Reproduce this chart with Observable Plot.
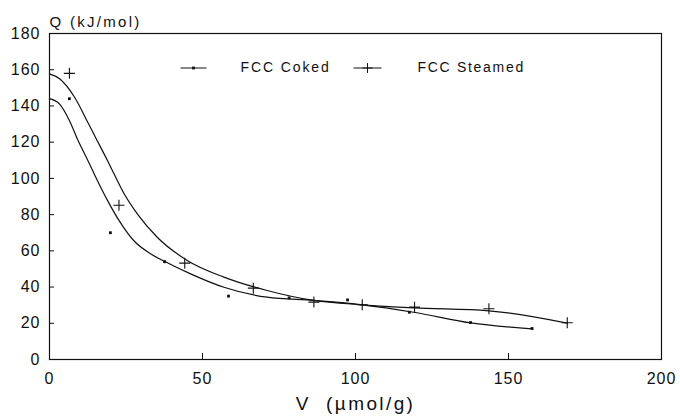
<!DOCTYPE html>
<html>
<head>
<meta charset="utf-8">
<script src="https://cdn.jsdelivr.net/npm/d3@7"></script>
<script src="https://cdn.jsdelivr.net/npm/@observablehq/plot@0.6"></script>
<style>
  html, body { margin: 0; padding: 0; background: #fff; }
  #chart { width: 680px; height: 416px; }
</style>
</head>
<body>
<div id="chart"></div>
<script>
// ---- data ----
const xTicks = [0, 50, 100, 150, 200];
const yTicks = [0, 20, 40, 60, 80, 100, 120, 140, 160, 180];

// FCC Coked measured points (V µmol/g, Q kJ/mol)
const cokedV = [6.5, 19.9, 37.6, 58.5, 78.3, 97.4, 117.6, 137.6, 157.7];
const cokedQ = [144, 70, 54, 35, 34, 32.9, 26.1, 20.4, 17.1];

// FCC Steamed measured points
const steamedV = [6.5, 22.7, 44.2, 66.6, 86.4, 102.2, 119.3, 143.6, 169.2];
const steamedQ = [158, 85.2, 53.2, 39.4, 31.7, 30.2, 28.9, 28.0, 20.3];

// fitted curves
const cokedFitV = [0, 3.3, 6.5, 9.3, 12.5, 15.6, 18.9, 22.7, 27.5, 33, 37.7, 46.1, 57, 71.1, 86.4, 102.2, 119, 137.6, 157.7];
const cokedFitQ = [144, 141, 132, 121, 110, 99, 88, 76.8, 65.7, 58.4, 54.1, 47.3, 39.9, 34.4, 32.6, 30.2, 26.1, 20.2, 16.9];

const steamedFitV = [0, 3.3, 8.2, 12.5, 15.3, 18.9, 21.6, 24.3, 28.7, 35.2, 45, 57, 71.1, 86.4, 102.2, 119.1, 143.6, 169.2];
const steamedFitQ = [157.7, 155, 144.8, 131, 121.8, 110, 100.8, 91.8, 80.4, 67.5, 54.7, 45.5, 38.1, 32.6, 30.2, 28.5, 26.9, 20.1];

const seriesNames = ["FCC Coked", "FCC Steamed"];
const yTitle = "Q (kJ/mol)";
const xTitle = "V  (\u00b5mol/g)";

// ---- build tables ----
const coked = cokedV.map((v, i) => ({V: v, Q: cokedQ[i]}));
const steamed = steamedV.map((v, i) => ({V: v, Q: steamedQ[i]}));
const cokedFit = cokedFitV.map((v, i) => ({V: v, Q: cokedFitQ[i]}));
const steamedFit = steamedFitV.map((v, i) => ({V: v, Q: steamedFitQ[i]}));

const ink = "#111";
const plusSym = {draw(ctx, size) { const r = Math.sqrt(size / Math.PI); ctx.moveTo(-r, 0); ctx.lineTo(r, 0); ctx.moveTo(0, -r); ctx.lineTo(0, r); }};
const hline = {draw(ctx, size) { const r = Math.sqrt(size / Math.PI); ctx.moveTo(-r, 0); ctx.lineTo(r, 0); }};

const W = 680, H = 416, mL = 49, mR = 19, mT = 33, mB = 57;
const innerW = W - mL - mR, innerH = H - mT - mB;

const chart = Plot.plot({
  width: W, height: H,
  marginLeft: mL, marginRight: mR, marginTop: mT, marginBottom: mB,
  style: {fontFamily: "'Liberation Sans', Arial, sans-serif", fontSize: "16px", color: ink, background: "#fff", overflow: "visible"},
  x: {domain: [0, 200], axis: null},
  y: {domain: [0, 180], axis: null},
  marks: [
    Plot.frame({stroke: ink, strokeWidth: 1.2}),
    Plot.tickY(yTicks, {y: d => d, insetRight: innerW - 5, stroke: ink}),
    Plot.tickX(xTicks, {x: d => d, insetTop: innerH - 6, stroke: ink}),
    Plot.axisY({ticks: yTicks, tickSize: 0, tickPadding: 9, label: null, fontSize: 16}),
    Plot.axisX({ticks: xTicks, tickSize: 0, tickPadding: 13, label: null, fontSize: 16}),
    Plot.line(cokedFit, {x: "V", y: "Q", curve: "monotone-x", stroke: ink, strokeWidth: 1.2}),
    Plot.line(steamedFit, {x: "V", y: "Q", curve: "monotone-x", stroke: ink, strokeWidth: 1.2}),
    Plot.dot(coked, {x: "V", y: "Q", symbol: "square", r: 1.6, fill: ink}),
    Plot.dot(steamed, {x: "V", y: "Q", symbol: plusSym, r: 5.5, stroke: ink, strokeWidth: 1.1, fill: "none"}),
    // axis titles
    Plot.text([yTitle], {text: d => d, frameAnchor: "top-left", textAnchor: "start", lineAnchor: "bottom", dy: -7, fontSize: 15, fill: ink}),
    Plot.text([xTitle], {text: d => d, frameAnchor: "bottom", lineAnchor: "middle", dy: 44, fontSize: 19, fill: ink}),
    // legend
    Plot.dot([seriesNames[0]], {frameAnchor: "top-left", dx: 144, dy: 34.5, symbol: hline, r: 13, stroke: ink, strokeWidth: 1}),
    Plot.dot([seriesNames[0]], {frameAnchor: "top-left", dx: 144, dy: 34.5, symbol: "square", r: 1.6, fill: ink}),
    Plot.text([seriesNames[0]], {text: d => d, frameAnchor: "top-left", textAnchor: "start", lineAnchor: "middle", dx: 191, dy: 34.5, fontSize: 14, fill: ink}),
    Plot.dot([seriesNames[1]], {frameAnchor: "top-left", dx: 318, dy: 34.5, symbol: hline, r: 14, stroke: ink, strokeWidth: 1}),
    Plot.dot([seriesNames[1]], {frameAnchor: "top-left", dx: 318, dy: 34.5, symbol: plusSym, r: 5, stroke: ink, strokeWidth: 1}),
    Plot.text([seriesNames[1]], {text: d => d, frameAnchor: "top-left", textAnchor: "start", lineAnchor: "middle", dx: 368, dy: 34.5, fontSize: 14, fill: ink})
  ]
});

document.getElementById("chart").appendChild(chart);
const spacing = new Map([[yTitle, "2.3px"], [xTitle, "2.4px"], [seriesNames[0], "1.9px"], [seriesNames[1], "1.7px"]]);
chart.querySelectorAll("text").forEach(t => {
  const ls = spacing.get(t.textContent) || "1px";
  t.setAttribute("letter-spacing", ls);
  t.style.letterSpacing = ls;
});
</script>
</body>
</html>
